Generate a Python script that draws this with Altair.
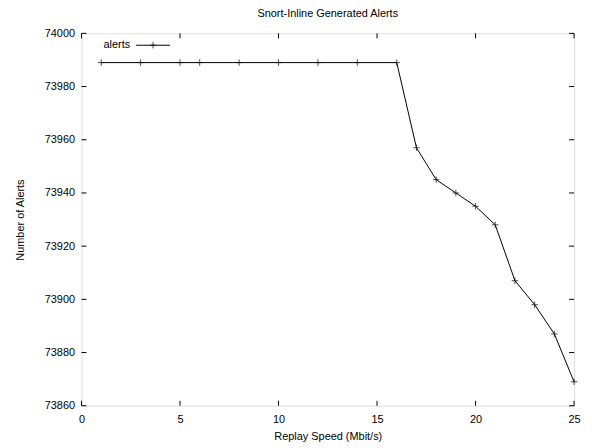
import altair as alt
import pandas as pd

speeds = [1, 3, 5, 6, 8, 10, 12, 14, 16, 17, 18, 19, 20, 21, 22, 23, 24, 25]
alerts = [73989, 73989, 73989, 73989, 73989, 73989, 73989, 73989, 73989,
          73957, 73945, 73940, 73935, 73928, 73907, 73898, 73887, 73869]
x_ticks = [0, 5, 10, 15, 20, 25]
y_ticks = [73860, 73880, 73900, 73920, 73940, 73960, 73980, 74000]

W, H = 496, 375
FONT = "Liberation Sans"
PLUS = "M-1,0L1,0M0,-1L0,1"

df = pd.DataFrame({"speed": speeds, "alerts": alerts})
xt = pd.DataFrame({"t": x_ticks})
yt = pd.DataFrame({"t": y_ticks})

xs = alt.Scale(domain=[0, 25], nice=False, zero=False)
ys = alt.Scale(domain=[73860, 74000], nice=False, zero=False)

xax = alt.Axis(values=x_ticks, format="d", ticks=False, domain=False, grid=False, labelPadding=8,
               labelFontSize=11, labelFont=FONT, labelColor="black",
               title="Replay Speed (Mbit/s)", titleFont=FONT, titleFontSize=11,
               titleFontWeight="normal", titleColor="black", titlePadding=6,
               labelFlush=False)
yax = alt.Axis(values=y_ticks, format="d", ticks=False, domain=False, grid=False, labelPadding=7,
               labelFontSize=11, labelFont=FONT, labelColor="black",
               title="Number of Alerts", titleFont=FONT, titleFontSize=11,
               titleFontWeight="normal", titleColor="black", titlePadding=19,
               labelFlush=False)

base = alt.Chart(df)
line = base.mark_line(color="black", strokeWidth=1).encode(
    x=alt.X("speed:Q", scale=xs, axis=xax),
    y=alt.Y("alerts:Q", scale=ys, axis=yax),
)
pts = base.mark_point(shape=PLUS, size=42, filled=False, color="black", strokeWidth=1).encode(
    x=alt.X("speed:Q", scale=xs),
    y=alt.Y("alerts:Q", scale=ys),
)

tl = 5
bt = alt.Chart(xt).mark_rule(color="black").encode(
    x=alt.X("t:Q", scale=xs), y=alt.value(H), y2=alt.value(H - tl))
tt = alt.Chart(xt).mark_rule(color="black").encode(
    x=alt.X("t:Q", scale=xs), y=alt.value(0), y2=alt.value(tl))
lt = alt.Chart(yt).mark_rule(color="black").encode(
    y=alt.Y("t:Q", scale=ys), x=alt.value(0), x2=alt.value(tl))
rt = alt.Chart(yt).mark_rule(color="black").encode(
    y=alt.Y("t:Q", scale=ys), x=alt.value(W), x2=alt.value(W - tl))

leg = pd.DataFrame({"label": ["alerts"]})
leg_text = alt.Chart(leg).mark_text(align="right", baseline="middle", font=FONT,
                                    fontSize=11, color="black").encode(
    text="label:N", x=alt.value(49), y=alt.value(12))
leg_line = alt.Chart(leg).mark_rule(color="black", strokeWidth=1).encode(
    x=alt.value(55), x2=alt.value(89), y=alt.value(12))
leg_pt = alt.Chart(leg).mark_point(shape=PLUS, size=42, filled=False, color="black",
                                   strokeWidth=1).encode(
    x=alt.value(72), y=alt.value(12))

chart = alt.layer(line, pts, bt, tt, lt, rt, leg_text, leg_line, leg_pt).properties(
    width=W, height=H,
    title=alt.TitleParams("Snort-Inline Generated Alerts", font=FONT, fontSize=11,
                          fontWeight="normal", color="black", anchor="middle", offset=8),
    autosize=alt.AutoSizeParams(type="none"),
    padding={"left": 74, "top": 24, "right": 10, "bottom": 40},
).configure_view(stroke="black", strokeWidth=1).configure(background="white")

chart.save("out.html", embed_options={"renderer": "svg", "actions": False})
